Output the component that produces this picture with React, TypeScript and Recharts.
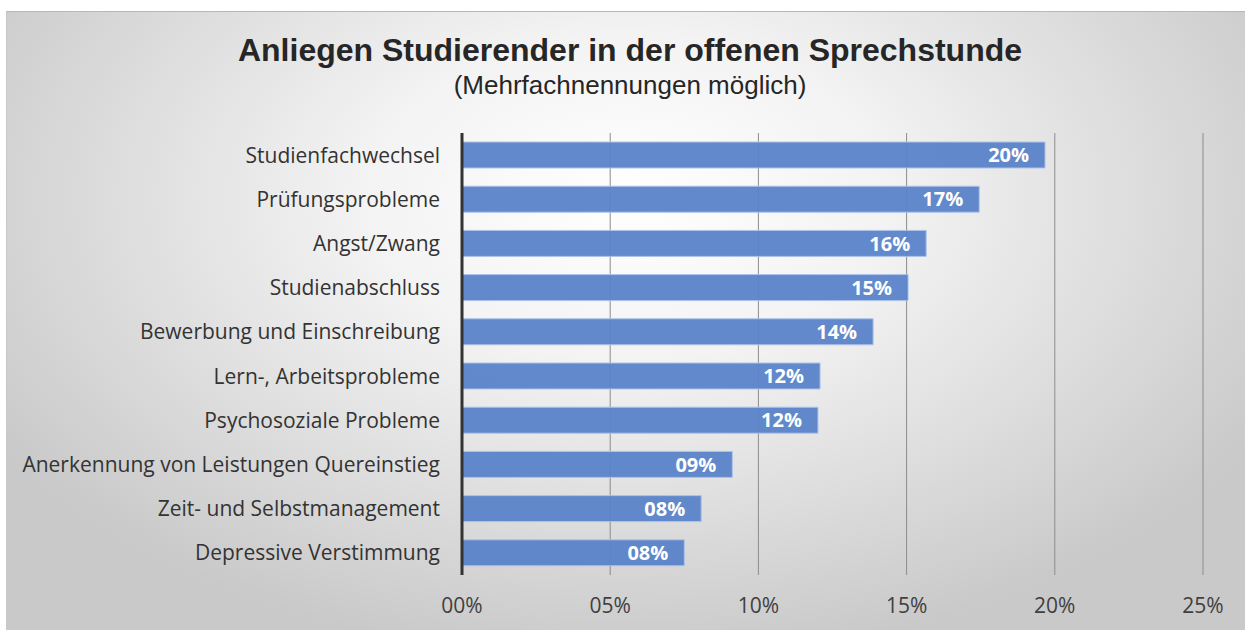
import React from 'react'
import { BarChart, Bar, XAxis, YAxis, CartesianGrid, LabelList } from 'recharts'

// Anliegen in der offenen Sprechstunde, Anteil in Prozent
const categories = [
  'Studienfachwechsel',
  'Prüfungsprobleme',
  'Angst/Zwang',
  'Studienabschluss',
  'Bewerbung und Einschreibung',
  'Lern-, Arbeitsprobleme',
  'Psychosoziale Probleme ',
  'Anerkennung von Leistungen Quereinstieg',
  'Zeit- und Selbstmanagement',
  'Depressive Verstimmung',
]
const shares = [19.67, 17.45, 15.66, 15.05, 13.87, 12.08, 12.01, 9.12, 8.07, 7.5]
const xTicks = [0, 5, 10, 15, 20, 25]

const data = categories.map((name, i) => ({ name, value: shares[i] }))

const pct = (v: number) => `${String(Math.round(v)).padStart(2, '0')}%`

const labelFont = '"Open Sans", Lato, sans-serif'

export default function App() {
  return (
    <div style={{ position: 'absolute', left: 0, top: 0, width: 1250, height: 630, background: '#fff' }}>
      <div
        style={{
          position: 'absolute',
          left: 6,
          top: 11,
          width: 1238,
          height: 619,
          borderTop: '1px solid #b8b8b8',
          borderLeft: '1px solid #c8c8c8',
          background: 'radial-gradient(ellipse 60% 75% at 50% 30%, #ffffff 0%, #f3f3f3 35%, #c9c9c9 100%)',
        }}
      />
      <div
        style={{
          position: 'absolute',
          left: 0,
          top: 31,
          width: 1260,
          textAlign: 'center',
          fontFamily: '"Liberation Sans", Arial, sans-serif',
          color: '#262626',
        }}
      >
        <div style={{ fontSize: 32, fontWeight: 'bold', lineHeight: '38px' }}>
          Anliegen Studierender in der offenen Sprechstunde
        </div>
        <div style={{ fontSize: 26, lineHeight: '32px' }}>(Mehrfachnennungen möglich)</div>
      </div>
      <div style={{ position: 'absolute', left: 0, top: 0 }}>
        <BarChart
          width={1250}
          height={630}
          data={data}
          layout="vertical"
          margin={{ top: 133, right: 47, bottom: 15, left: 0 }}
          barCategoryGap={9}
        >
          <CartesianGrid horizontal={false} stroke="#8c8c8c" strokeWidth={1} />
          <XAxis
            type="number"
            domain={[0, 25]}
            ticks={xTicks}
            tickFormatter={pct}
            axisLine={false}
            tickLine={false}
            tickSize={0}
            tickMargin={23}
            height={40}
            tick={{ fill: '#404040', fontSize: 21, fontFamily: labelFont }}
          />
          <YAxis
            type="category"
            dataKey="name"
            width={462}
            axisLine={{ stroke: '#333', strokeWidth: 3 }}
            tickLine={false}
            tickSize={0}
            tickMargin={22}
            interval={0}
            tick={{ fill: '#333', fontSize: 21, fontFamily: labelFont }}
          />
          <Bar
            dataKey="value"
            fill="#5a83c8"
            fillOpacity={0.95}
            stroke="#aec3ea"
            strokeWidth={1}
            barSize={26}
            isAnimationActive={false}
          >
            <LabelList
              dataKey="value"
              position="insideRight"
              offset={16}
              formatter={(v: any) => pct(Number(v))}
              style={{ fill: '#fff', fontSize: 20, fontWeight: 'bold', fontFamily: labelFont }}
            />
          </Bar>
        </BarChart>
      </div>
    </div>
  )
}
